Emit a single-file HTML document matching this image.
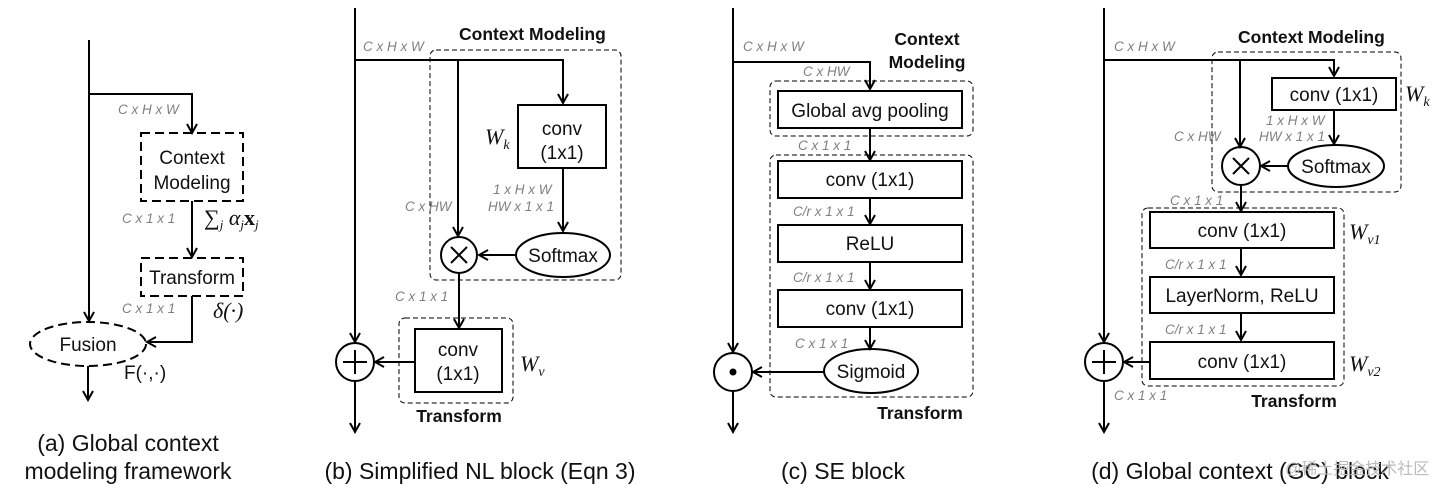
<!DOCTYPE html>
<html><head><meta charset="utf-8"><style>
html,body{margin:0;padding:0;background:#fff;}
svg{display:block;}
text{font-family:"Liberation Sans",sans-serif;}
.l{font-size:13.5px;fill:#808080;font-style:italic;}
.b{font-size:19px;fill:#111;}
.h{font-size:17.5px;font-weight:bold;fill:#111;}
.c{font-size:23px;fill:#111;}
.m{font-family:"Liberation Serif",serif;font-style:italic;font-size:22px;fill:#111;}
</style></head><body>
<svg width="1450" height="485" viewBox="0 0 1450 485" xmlns="http://www.w3.org/2000/svg">
<defs><marker id="a" markerWidth="12" markerHeight="12" refX="10" refY="6" orient="auto" markerUnits="userSpaceOnUse"><path d="M1,1 L10,6 L1,11" fill="none" stroke="#000" stroke-width="2"/></marker></defs>
<g stroke="#000" stroke-width="2" fill="none">
<!-- (a) -->
<path d="M89,40 V321" marker-end="url(#a)"/>
<path d="M89,94 H192 V133" marker-end="url(#a)"/>
<rect x="141" y="133" width="102" height="68" stroke-dasharray="9,5"/>
<path d="M192,201 V257" marker-end="url(#a)"/>
<rect x="141" y="258" width="102" height="38" stroke-dasharray="9,5"/>
<path d="M192,296 V342 H147" marker-end="url(#a)"/>
<ellipse cx="88" cy="344" rx="58" ry="22" stroke-dasharray="9,5"/>
<path d="M88,366 V400" marker-end="url(#a)"/>
<!-- (b) -->
<path d="M355,8 V342" marker-end="url(#a)"/>
<circle cx="355" cy="362" r="19"/>
<path d="M343,362 H367 M355,350 V374"/>
<path d="M355,381 V432" marker-end="url(#a)"/>
<path d="M355,60 H563 V103" marker-end="url(#a)"/>
<path d="M458,60 V236" marker-end="url(#a)"/>
<rect x="430" y="50" width="191" height="230" rx="6" stroke-width="1" stroke-dasharray="5,3"/>
<rect x="518" y="105" width="88" height="63"/>
<path d="M563,168 V231" marker-end="url(#a)"/>
<circle cx="459" cy="255" r="18"/>
<path d="M451,247 L467,263 M467,247 L451,263"/>
<ellipse cx="563" cy="255" rx="47" ry="22"/>
<path d="M516,255 H479" marker-end="url(#a)"/>
<path d="M459,273 V328" marker-end="url(#a)"/>
<rect x="399" y="318" width="114" height="85" rx="6" stroke-width="1" stroke-dasharray="5,3"/>
<rect x="415" y="329" width="87" height="63"/>
<path d="M415,362 H375" marker-end="url(#a)"/>
<!-- (c) -->
<path d="M733,8 V352" marker-end="url(#a)"/>
<circle cx="733" cy="372" r="19"/>
<circle cx="733" cy="372" r="2.5" fill="#000"/>
<path d="M733,391 V432" marker-end="url(#a)"/>
<path d="M733,62 H870 V89" marker-end="url(#a)"/>
<rect x="770" y="81" width="203" height="55" rx="6" stroke-width="1" stroke-dasharray="5,3"/>
<rect x="778" y="91" width="184" height="37"/>
<path d="M870,128 V160" marker-end="url(#a)"/>
<rect x="770" y="155" width="203" height="242" rx="6" stroke-width="1" stroke-dasharray="5,3"/>
<rect x="778" y="161" width="184" height="37"/>
<path d="M870,198 V224" marker-end="url(#a)"/>
<rect x="778" y="225" width="184" height="37"/>
<path d="M870,262 V289" marker-end="url(#a)"/>
<rect x="778" y="290" width="184" height="37"/>
<path d="M870,327 V349" marker-end="url(#a)"/>
<ellipse cx="871" cy="371" rx="47" ry="22"/>
<path d="M824,372 H753" marker-end="url(#a)"/>
<!-- (d) -->
<path d="M1104,8 V342" marker-end="url(#a)"/>
<circle cx="1104" cy="362" r="19"/>
<path d="M1092,362 H1116 M1104,350 V374"/>
<path d="M1104,381 V432" marker-end="url(#a)"/>
<path d="M1104,60 H1334 V76" marker-end="url(#a)"/>
<path d="M1240,60 V147" marker-end="url(#a)"/>
<rect x="1212" y="52" width="189" height="140" rx="6" stroke-width="1" stroke-dasharray="5,3"/>
<rect x="1272" y="78" width="124" height="32"/>
<path d="M1334,110 V144" marker-end="url(#a)"/>
<circle cx="1241" cy="166" r="19"/>
<path d="M1233,158 L1249,174 M1249,158 L1233,174"/>
<ellipse cx="1336" cy="166" rx="48" ry="21"/>
<path d="M1288,166 H1261" marker-end="url(#a)"/>
<path d="M1241,185 V211" marker-end="url(#a)"/>
<rect x="1142" y="208" width="202" height="178" rx="6" stroke-width="1" stroke-dasharray="5,3"/>
<rect x="1150" y="212" width="184" height="36"/>
<path d="M1241,248 V275" marker-end="url(#a)"/>
<rect x="1150" y="277" width="184" height="36"/>
<path d="M1241,313 V340" marker-end="url(#a)"/>
<rect x="1150" y="342" width="184" height="37"/>
<path d="M1150,362 H1124" marker-end="url(#a)"/>
</g>
<!-- (a) text -->
<text class="l" x="118" y="114">C x H x W</text>
<text class="b" x="192" y="164" text-anchor="middle">Context</text>
<text class="b" x="192" y="189" text-anchor="middle">Modeling</text>
<text class="l" x="122" y="223">C x 1 x 1</text>
<text class="m" x="204" y="225">∑<tspan font-size="13" dy="4">j</tspan><tspan dy="-4"> α</tspan><tspan font-size="13" dy="4">j</tspan><tspan dy="-4" font-style="normal" font-weight="bold">x</tspan><tspan font-size="13" dy="4">j</tspan></text>
<text class="b" x="192" y="284" text-anchor="middle">Transform</text>
<text class="l" x="122" y="313">C x 1 x 1</text>
<text class="m" x="213" y="318">δ(·)</text>
<text class="b" x="88" y="351" text-anchor="middle">Fusion</text>
<text class="b" x="124" y="379">F(·,·)</text>
<text class="c" x="128" y="451" text-anchor="middle">(a) Global context</text>
<text class="c" x="128" y="479" text-anchor="middle">modeling framework</text>
<!-- (b) text -->
<text class="h" x="459" y="40">Context Modeling</text>
<text class="l" x="363" y="51">C x H x W</text>
<text class="b" x="562" y="135" text-anchor="middle">conv</text>
<text class="b" x="562" y="159" text-anchor="middle">(1x1)</text>
<text class="m" x="485" y="144">W<tspan font-size="14" dy="5">k</tspan></text>
<text class="l" x="493" y="194">1 x H x W</text>
<text class="l" x="488" y="211">HW x 1 x 1</text>
<text class="l" x="405" y="211">C x HW</text>
<text class="b" x="563" y="262" text-anchor="middle">Softmax</text>
<text class="l" x="395" y="301">C x 1 x 1</text>
<text class="b" x="458" y="356" text-anchor="middle">conv</text>
<text class="b" x="458" y="380" text-anchor="middle">(1x1)</text>
<text class="m" x="520" y="371">W<tspan font-size="14" dy="5">v</tspan></text>
<text class="h" x="459" y="422" text-anchor="middle">Transform</text>
<text class="c" x="480" y="479" text-anchor="middle">(b) Simplified NL block (Eqn 3)</text>
<!-- (c) text -->
<text class="h" x="927" y="45" text-anchor="middle">Context</text>
<text class="h" x="927" y="68" text-anchor="middle">Modeling</text>
<text class="l" x="743" y="51">C x H x W</text>
<text class="l" x="803" y="76">C x HW</text>
<text class="b" x="870" y="117" text-anchor="middle">Global avg pooling</text>
<text class="l" x="798" y="150">C x 1 x 1</text>
<text class="b" x="870" y="186" text-anchor="middle">conv (1x1)</text>
<text class="l" x="793" y="216">C/r x 1 x 1</text>
<text class="b" x="870" y="250" text-anchor="middle">ReLU</text>
<text class="l" x="793" y="282">C/r x 1 x 1</text>
<text class="b" x="870" y="315" text-anchor="middle">conv (1x1)</text>
<text class="l" x="795" y="348">C x 1 x 1</text>
<text class="b" x="871" y="378" text-anchor="middle">Sigmoid</text>
<text class="h" x="920" y="419" text-anchor="middle">Transform</text>
<text class="c" x="843" y="479" text-anchor="middle">(c) SE block</text>
<!-- (d) text -->
<text class="h" x="1238" y="43">Context Modeling</text>
<text class="l" x="1114" y="51">C x H x W</text>
<text class="b" x="1334" y="101" text-anchor="middle">conv (1x1)</text>
<text class="m" x="1405" y="101">W<tspan font-size="14" dy="5">k</tspan></text>
<text class="l" x="1266" y="125">1 x H x W</text>
<text class="l" x="1259" y="141">HW x 1 x 1</text>
<text class="l" x="1174" y="141">C x HW</text>
<text class="b" x="1336" y="173" text-anchor="middle">Softmax</text>
<text class="l" x="1170" y="205">C x 1 x 1</text>
<text class="b" x="1242" y="237" text-anchor="middle">conv (1x1)</text>
<text class="m" x="1349" y="239">W<tspan font-size="14" dy="5">v1</tspan></text>
<text class="l" x="1165" y="269">C/r x 1 x 1</text>
<text class="b" x="1242" y="302" text-anchor="middle">LayerNorm, ReLU</text>
<text class="l" x="1165" y="334">C/r x 1 x 1</text>
<text class="b" x="1242" y="368" text-anchor="middle">conv (1x1)</text>
<text class="m" x="1349" y="371">W<tspan font-size="14" dy="5">v2</tspan></text>
<text class="l" x="1114" y="400">C x 1 x 1</text>
<text class="h" x="1294" y="407" text-anchor="middle">Transform</text>
<text class="c" x="1240" y="479" text-anchor="middle">(d) Global context (GC) block</text>
<text x="1285" y="474" style="font-family:'Liberation Sans','Noto Sans CJK SC',sans-serif;font-size:16px;fill:#bbb;">@稀土掘金技术社区</text>
</svg>
</body></html>
